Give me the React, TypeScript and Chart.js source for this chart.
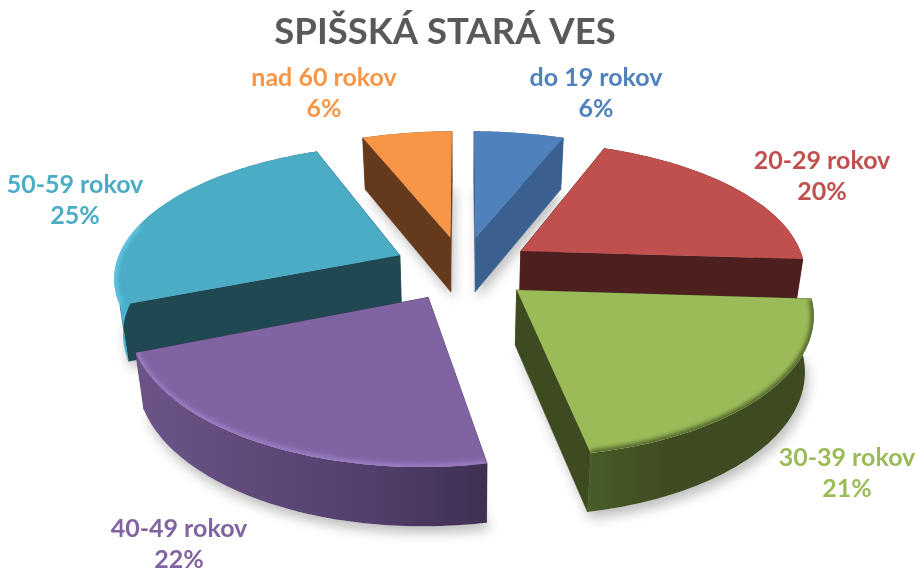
import React, { useEffect, useRef } from "react";
import { Chart, registerables } from "chart.js";

Chart.register(...registerables);

const categories = ["do 19 rokov", "20-29 rokov", "30-39 rokov", "40-49 rokov", "50-59 rokov", "nad 60 rokov"];
const shares = [6, 20, 21, 22, 25, 6];
const chartTitle = "SPIŠSKÁ STARÁ VES";

const topColors = ["#4f81bd", "#c0504d", "#9bbb59", "#8064a2", "#4bacc6", "#f79646"];
const labelColors = ["#4f81bd", "#c0504d", "#9bbb59", "#8064a2", "#4bacc6", "#f79646"];
const sideColors = ["#39608f", "#4d1f1f", "#3e4a20", "#3f3052", "#1f4853", "#65391b"];
const wallStops: string[][] = [
  ["#39608f", "#39608f"],
  ["#4d1f1f", "#4d1f1f"],
  ["#485c29", "#3f4c21", "#3e4a20", "#3e4a20"],
  ["#6c5488", "#5f4a7a", "#523f6c", "#3f3052"],
  ["#4fb8d8", "#1f4853"],
  ["#65391b", "#65391b"],
];
const bevelColors = ["#4f81bd", "#c0504d", "#4e6128", "#9c7ec6", "#62c8e6", "#f79646"];
const labelAnchors = [[596, 78], [822, 161], [847, 458], [179, 529], [75, 185], [324, 78]];
const paintOrder = [5, 0, 1, 4, 2, 3];

const camera = { cx: 463, cy: 268, a: 285, b: 132, px: 0.15, py: 0.16, explode: 0.245, depth: 55, depthP: 0.06, taper: 0.975 };

type Pt = [number, number, number, number];

function project(wx: number, wy: number): Pt {
  const x = camera.cx + (camera.a * wx) / (1 - camera.px * wy);
  const y = camera.cy + (camera.b * wy) / (1 - camera.py * wy);
  const h = camera.depth / (1 - camera.depthP * wy);
  return [x, y, camera.cx + (x - camera.cx) * camera.taper, y + h];
}

function sliceGeometry(start: number, end: number) {
  const mid = (start + end) / 2;
  const ox = camera.explode * Math.cos(mid);
  const oy = camera.explode * Math.sin(mid);
  const apex = project(ox, oy);
  const rim: Pt[] = [];
  const near: boolean[] = [];
  const steps = Math.max(4, Math.ceil((end - start) / (Math.PI / 180)));
  for (let i = 0; i <= steps; i++) {
    const t = start + ((end - start) * i) / steps;
    rim.push(project(ox + Math.cos(t), oy + Math.sin(t)));
    near.push(Math.sin(t) > -0.25);
  }
  return { apex, rim, near };
}

function path(ctx: CanvasRenderingContext2D, pts: [number, number][]) {
  ctx.beginPath();
  pts.forEach((q, i) => (i ? ctx.lineTo(q[0], q[1]) : ctx.moveTo(q[0], q[1])));
  ctx.closePath();
}

const tiltedPie = {
  id: "tiltedPie",
  beforeDatasetsDraw(chart: any) {
    const ctx: CanvasRenderingContext2D = chart.ctx;
    const arcs = chart.getDatasetMeta(0).data;
    const geos = arcs.map((arc: any) => sliceGeometry(arc.startAngle, arc.endAngle));

    // soft ground shadows
    ctx.save();
    ctx.shadowColor = "rgba(0,0,0,0.25)";
    ctx.shadowBlur = 12;
    ctx.shadowOffsetX = 3;
    ctx.shadowOffsetY = 7;
    ctx.fillStyle = "#ffffff";
    paintOrder.forEach((i) => {
      const g = geos[i];
      const low = [g.apex, ...g.rim].map((q: Pt) => [q[2], q[3]] as [number, number]);
      path(ctx, low);
      ctx.fill();
    });
    ctx.restore();

    paintOrder.forEach((i) => {
      const { apex, rim, near } = geos[i];
      const first = rim[0];
      const last = rim[rim.length - 1];
      ctx.save();
      ctx.lineJoin = "round";

      // radial walls
      ctx.fillStyle = sideColors[i];
      ctx.strokeStyle = sideColors[i];
      ctx.lineWidth = 0.6;
      [first, last].forEach((e) => {
        path(ctx, [
          [apex[0], apex[1]],
          [e[0], e[1]],
          [e[2], e[3]],
          [apex[2], apex[3]],
        ]);
        ctx.fill();
        ctx.stroke();
      });

      // outer curved wall
      const xs = rim.map((q) => q[0]);
      const x0 = Math.min(...xs);
      const x1 = Math.max(...xs);
      const grad = ctx.createLinearGradient(x0, 0, x1, 0);
      wallStops[i].forEach((c, k) => grad.addColorStop(k / (wallStops[i].length - 1), c));
      const wall: [number, number][] = rim.map((q) => [q[0], q[1]]);
      [...rim].reverse().forEach((q) => wall.push([q[2], q[3]]));
      ctx.fillStyle = grad;
      path(ctx, wall);
      ctx.fill();

      // top face
      const top: [number, number][] = [[apex[0], apex[1]], ...rim.map((q) => [q[0], q[1]] as [number, number])];
      ctx.fillStyle = topColors[i];
      path(ctx, top);
      ctx.fill();

      // rim bevel on the side towards the viewer, clipped to the top face
      ctx.save();
      path(ctx, top);
      ctx.clip();
      ctx.filter = "blur(2px)";
      ctx.strokeStyle = bevelColors[i];
      ctx.lineWidth = 6;
      ctx.beginPath();
      let open = false;
      rim.forEach((q, k) => {
        if (!near[k]) return;
        if (open) ctx.lineTo(q[0], q[1]);
        else ctx.moveTo(q[0], q[1]);
        open = true;
      });
      ctx.stroke();
      ctx.restore();

      ctx.restore();
    });
    return false;
  },
  afterDraw(chart: any) {
    const ctx: CanvasRenderingContext2D = chart.ctx;
    const values: number[] = chart.data.datasets[0].data;
    ctx.save();
    ctx.textAlign = "center";
    ctx.textBaseline = "middle";
    ctx.font = "bold 25px Lato";
    values.forEach((v, i) => {
      ctx.fillStyle = labelColors[i];
      const [x, y] = labelAnchors[i];
      ctx.fillText(String(chart.data.labels[i]), x, y);
      ctx.fillText(`${v}%`, x, y + 31);
    });
    ctx.restore();
  },
};

export default function App() {
  const ref = useRef<HTMLCanvasElement | null>(null);
  useEffect(() => {
    const chart = new Chart(ref.current as HTMLCanvasElement, {
      type: "pie",
      data: {
        labels: categories,
        datasets: [{ data: shares, backgroundColor: topColors, borderWidth: 0 }],
      },
      options: {
        animation: false,
        responsive: false,
        layout: { padding: { right: 25 } },
        plugins: {
          legend: { display: false },
          tooltip: { enabled: false },
          title: {
            display: true,
            text: chartTitle,
            color: "#595959",
            font: { family: "Lato", size: 36.5, weight: "bold" },
            padding: { top: 10, bottom: 4 },
          },
        },
      },
      plugins: [tiltedPie],
    } as any);
    return () => chart.destroy();
  }, []);
  return (
    <div style={{ position: "absolute", left: 0, top: 0, width: 915, height: 570, background: "#ffffff" }}>
      <canvas ref={ref} width={915} height={570} style={{ display: "block" }} />
    </div>
  );
}
